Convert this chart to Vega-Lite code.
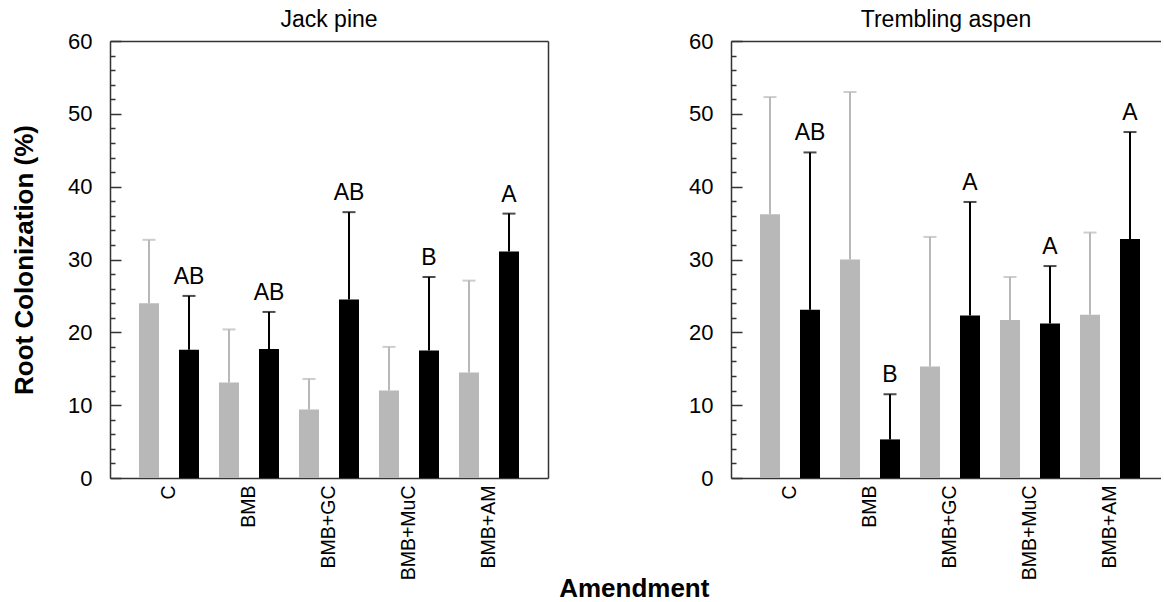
{
  "$schema": "https://vega.github.io/schema/vega-lite/v6.json",
  "padding": {"left": 11, "top": 9, "right": 0, "bottom": 0},
  "config": {
    "view": {"stroke": null},
    "font": "Liberation Sans",
    "axis": {"grid": false, "domainColor": "#333333", "domainWidth": 1.5, "tickColor": "#333333", "tickWidth": 1.5, "labelColor": "#000000", "titleColor": "#000000", "labelFont": "Liberation Sans", "titleFont": "Liberation Sans"}
  },
  "datasets": {
    "rc": [
      {"species": "Jack pine", "amendment": "C", "series": "S1", "mean": 24.0, "upper": 32.7, "letter": ""},
      {"species": "Jack pine", "amendment": "C", "series": "S2", "mean": 17.6, "upper": 25.0, "letter": "AB"},
      {"species": "Jack pine", "amendment": "BMB", "series": "S1", "mean": 13.1, "upper": 20.4, "letter": ""},
      {"species": "Jack pine", "amendment": "BMB", "series": "S2", "mean": 17.7, "upper": 22.8, "letter": "AB"},
      {"species": "Jack pine", "amendment": "BMB+GC", "series": "S1", "mean": 9.4, "upper": 13.6, "letter": ""},
      {"species": "Jack pine", "amendment": "BMB+GC", "series": "S2", "mean": 24.5, "upper": 36.5, "letter": "AB"},
      {"species": "Jack pine", "amendment": "BMB+MuC", "series": "S1", "mean": 12.0, "upper": 18.0, "letter": ""},
      {"species": "Jack pine", "amendment": "BMB+MuC", "series": "S2", "mean": 17.5, "upper": 27.6, "letter": "B"},
      {"species": "Jack pine", "amendment": "BMB+AM", "series": "S1", "mean": 14.5, "upper": 27.1, "letter": ""},
      {"species": "Jack pine", "amendment": "BMB+AM", "series": "S2", "mean": 31.1, "upper": 36.3, "letter": "A"},
      {"species": "Trembling aspen", "amendment": "C", "series": "S1", "mean": 36.2, "upper": 52.3, "letter": ""},
      {"species": "Trembling aspen", "amendment": "C", "series": "S2", "mean": 23.1, "upper": 44.7, "letter": "AB"},
      {"species": "Trembling aspen", "amendment": "BMB", "series": "S1", "mean": 30.0, "upper": 53.0, "letter": ""},
      {"species": "Trembling aspen", "amendment": "BMB", "series": "S2", "mean": 5.3, "upper": 11.5, "letter": "B"},
      {"species": "Trembling aspen", "amendment": "BMB+GC", "series": "S1", "mean": 15.3, "upper": 33.1, "letter": ""},
      {"species": "Trembling aspen", "amendment": "BMB+GC", "series": "S2", "mean": 22.3, "upper": 37.9, "letter": "A"},
      {"species": "Trembling aspen", "amendment": "BMB+MuC", "series": "S1", "mean": 21.7, "upper": 27.6, "letter": ""},
      {"species": "Trembling aspen", "amendment": "BMB+MuC", "series": "S2", "mean": 21.2, "upper": 29.1, "letter": "A"},
      {"species": "Trembling aspen", "amendment": "BMB+AM", "series": "S1", "mean": 22.4, "upper": 33.7, "letter": ""},
      {"species": "Trembling aspen", "amendment": "BMB+AM", "series": "S2", "mean": 32.8, "upper": 47.5, "letter": "A"}
    ]
  },
  "title": {"text": "Amendment", "orient": "bottom", "anchor": "middle", "fontSize": 26, "fontWeight": "bold", "font": "Liberation Sans", "color": "#000000", "offset": -4, "dx": 48},
  "spacing": 140,
  "hconcat": [
    {
      "data": {"name": "rc"},
      "transform": [{"filter": "datum.species === 'Jack pine'"}],
      "width": 438,
      "height": 437,
      "title": {"text": "Jack pine", "fontSize": 23, "fontWeight": "normal", "font": "Liberation Sans", "color": "#000000", "offset": -2},
      "resolve": {"axis": {"x": "independent", "y": "independent"}},
      "layer": [
        {
          "mark": {"type": "bar"},
          "encoding": {
            "x": {"field": "amendment", "type": "nominal", "sort": ["C", "BMB", "BMB+GC", "BMB+MuC", "BMB+AM"], "scale": {"paddingInner": 0.25, "paddingOuter": 0.3625},
                  "axis": {"orient": "bottom", "title": null, "ticks": false, "labelAngle": -90, "labelFontSize": 19.5, "labelPadding": 7}},
            "xOffset": {"field": "series", "type": "nominal", "sort": ["S1", "S2"], "scale": {"paddingInner": 0.5, "paddingOuter": 0}},
            "y": {"field": "mean", "type": "quantitative", "scale": {"domain": [0, 60], "nice": false},
                  "axis": {"orient": "left", "values": [0, 10, 20, 30, 40, 50, 60], "tickSize": -11, "labelPadding": 29, "labelFontSize": 22, "title": "Root Colonization (%)", "titleFontSize": 26, "titleFontWeight": "bold", "titlePadding": 30}},
            "color": {"field": "series", "type": "nominal", "scale": {"domain": ["S1", "S2"], "range": ["#b8b8b8", "#000000"]}, "legend": null}
          }
        },
        {
          "mark": {"type": "rule", "strokeWidth": 2},
          "encoding": {
            "x": {"field": "amendment", "type": "nominal", "sort": ["C", "BMB", "BMB+GC", "BMB+MuC", "BMB+AM"],
                  "axis": {"orient": "top", "title": null, "ticks": false, "labels": false, "domain": true}},
            "xOffset": {"field": "series", "type": "nominal", "sort": ["S1", "S2"]},
            "y": {"field": "mean", "type": "quantitative",
                  "axis": {"orient": "left", "values": [2, 4, 6, 8, 12, 14, 16, 18, 22, 24, 26, 28, 32, 34, 36, 38, 42, 44, 46, 48, 52, 54, 56, 58], "tickSize": -5, "labels": false, "domain": false, "title": null}},
            "y2": {"field": "upper"},
            "color": {"field": "series", "type": "nominal", "legend": null}
          }
        },
        {
          "mark": {"type": "tick", "orient": "horizontal", "size": 13, "thickness": 2},
          "encoding": {
            "x": {"field": "amendment", "type": "nominal", "sort": ["C", "BMB", "BMB+GC", "BMB+MuC", "BMB+AM"], "axis": null},
            "xOffset": {"field": "series", "type": "nominal", "sort": ["S1", "S2"]},
            "y": {"field": "upper", "type": "quantitative",
                  "axis": {"orient": "right", "title": null, "ticks": false, "labels": false, "domain": true}},
            "color": {"field": "series", "type": "nominal", "legend": null}
          }
        },
        {
          "transform": [{"filter": "datum.letter !== ''"}],
          "mark": {"type": "text", "baseline": "bottom", "dy": -7, "fontSize": 23, "font": "Liberation Sans", "color": "#000000"},
          "encoding": {
            "x": {"field": "amendment", "type": "nominal", "sort": ["C", "BMB", "BMB+GC", "BMB+MuC", "BMB+AM"], "axis": null},
            "xOffset": {"field": "series", "type": "nominal", "sort": ["S1", "S2"]},
            "y": {"field": "upper", "type": "quantitative", "axis": null},
            "text": {"field": "letter"}
          }
        }
      ]
    },
    {
      "data": {"name": "rc"},
      "transform": [{"filter": "datum.species === 'Trembling aspen'"}],
      "width": 430,
      "height": 437,
      "title": {"text": "Trembling aspen", "fontSize": 23, "fontWeight": "normal", "font": "Liberation Sans", "color": "#000000", "offset": -2},
      "resolve": {"axis": {"x": "independent", "y": "independent"}},
      "layer": [
        {
          "mark": {"type": "bar"},
          "encoding": {
            "x": {"field": "amendment", "type": "nominal", "sort": ["C", "BMB", "BMB+GC", "BMB+MuC", "BMB+AM"], "scale": {"paddingInner": 0.25, "paddingOuter": 0.3125, "align": 0.58},
                  "axis": {"orient": "bottom", "title": null, "ticks": false, "labelAngle": -90, "labelFontSize": 19.5, "labelPadding": 7}},
            "xOffset": {"field": "series", "type": "nominal", "sort": ["S1", "S2"], "scale": {"paddingInner": 0.5, "paddingOuter": 0}},
            "y": {"field": "mean", "type": "quantitative", "scale": {"domain": [0, 60], "nice": false},
                  "axis": {"orient": "left", "values": [0, 10, 20, 30, 40, 50, 60], "tickSize": -11, "labelPadding": 29, "labelFontSize": 22, "title": null}},
            "color": {"field": "series", "type": "nominal", "scale": {"domain": ["S1", "S2"], "range": ["#b8b8b8", "#000000"]}, "legend": null}
          }
        },
        {
          "mark": {"type": "rule", "strokeWidth": 2},
          "encoding": {
            "x": {"field": "amendment", "type": "nominal", "sort": ["C", "BMB", "BMB+GC", "BMB+MuC", "BMB+AM"],
                  "axis": {"orient": "top", "title": null, "ticks": false, "labels": false, "domain": true}},
            "xOffset": {"field": "series", "type": "nominal", "sort": ["S1", "S2"]},
            "y": {"field": "mean", "type": "quantitative",
                  "axis": {"orient": "left", "values": [2, 4, 6, 8, 12, 14, 16, 18, 22, 24, 26, 28, 32, 34, 36, 38, 42, 44, 46, 48, 52, 54, 56, 58], "tickSize": -5, "labels": false, "domain": false, "title": null}},
            "y2": {"field": "upper"},
            "color": {"field": "series", "type": "nominal", "legend": null}
          }
        },
        {
          "mark": {"type": "tick", "orient": "horizontal", "size": 13, "thickness": 2},
          "encoding": {
            "x": {"field": "amendment", "type": "nominal", "sort": ["C", "BMB", "BMB+GC", "BMB+MuC", "BMB+AM"], "axis": null},
            "xOffset": {"field": "series", "type": "nominal", "sort": ["S1", "S2"]},
            "y": {"field": "upper", "type": "quantitative", "axis": null},
            "color": {"field": "series", "type": "nominal", "legend": null}
          }
        },
        {
          "transform": [{"filter": "datum.letter !== ''"}],
          "mark": {"type": "text", "baseline": "bottom", "dy": -7, "fontSize": 23, "font": "Liberation Sans", "color": "#000000"},
          "encoding": {
            "x": {"field": "amendment", "type": "nominal", "sort": ["C", "BMB", "BMB+GC", "BMB+MuC", "BMB+AM"], "axis": null},
            "xOffset": {"field": "series", "type": "nominal", "sort": ["S1", "S2"]},
            "y": {"field": "upper", "type": "quantitative", "axis": null},
            "text": {"field": "letter"}
          }
        }
      ]
    }
  ]
}
